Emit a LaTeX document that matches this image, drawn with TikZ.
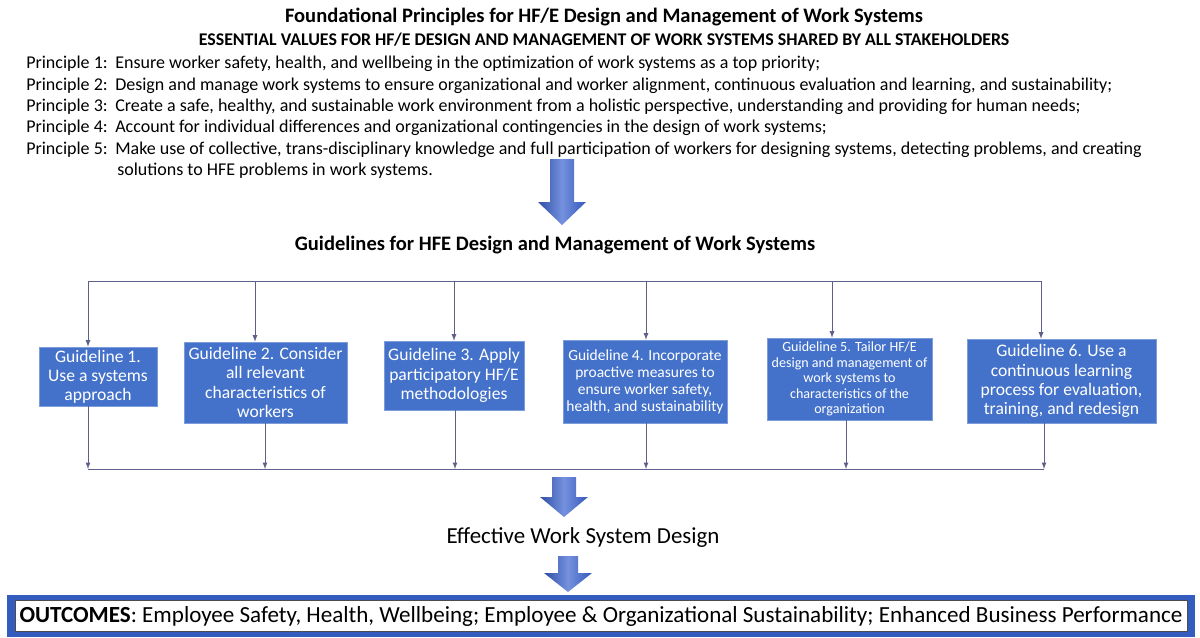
\documentclass[tikz,border=0pt]{standalone}
\usepackage{fontspec}
\setmainfont{Carlito}
\usepackage{tikz}
\usetikzlibrary{positioning}
\usetikzlibrary{arrows,shapes}
\usetikzlibrary{calc}

\definecolor{guideblue}{RGB}{68,114,202}
\definecolor{linkgray}{RGB}{95,95,140}
\definecolor{arrowblue}{RGB}{58,98,208}
\definecolor{frameblue}{RGB}{52,92,190}

\newcommand{\prinfont}{\fontsize{12.8}{15}\selectfont}
\newcommand{\gbig}{\fontsize{12.5}{13.6}\selectfont}

\tikzset{
  guide/.style={fill=guideblue, draw=guideblue!70!white, text=white, align=center, inner sep=1pt},
  link/.style={draw=linkgray, semithick, ->, >=latex},
  bus/.style={draw=linkgray, semithick},
}

\begin{document}
\begin{tikzpicture}[x=0.025cm, y=-0.025cm]
 \useasboundingbox (0,0) rectangle (1200,637);

 %principles
 \node[font=\fontsize{14.6}{16}\selectfont\bfseries] (title) at (604,17) {Foundational Principles for HF/E Design and Management of Work Systems};
 \node[font=\fontsize{12.7}{14}\selectfont\bfseries] (values) at (604,40) {ESSENTIAL VALUES FOR HF/E DESIGN AND MANAGEMENT OF WORK SYSTEMS SHARED BY ALL STAKEHOLDERS};

 \foreach \i/\txt in {1/{Ensure worker safety, health, and wellbeing in the optimization of work systems as a top priority;},
                      2/{Design and manage work systems to ensure organizational and worker alignment, continuous evaluation and learning, and sustainability;},
                      3/{Create a safe, healthy, and sustainable work environment from a holistic perspective, understanding and providing for human needs;},
                      4/{Account for individual differences and organizational contingencies in the design of work systems;},
                      5/{Make use of collective, trans-disciplinary knowledge and full participation of workers for designing systems, detecting problems, and creating}} {
   \node[anchor=base west, font=\prinfont, inner sep=0pt] (p\i) at (26, 47.5+21.3*\i) {Principle \i:};
   \node[anchor=base west, font=\prinfont, inner sep=0pt] (t\i) at (115, 47.5+21.3*\i) {\txt};
 }
 \node[anchor=base west, font=\prinfont, inner sep=0pt] (t6) at (117, 175) {solutions to HFE problems in work systems.};

 %big arrows
 \foreach \cx/\ya/\yb/\yc/\w in {562/159/202/225/12, 564/477/497/517/12, 568/556/573/592/10} {
   \shade[left color=arrowblue!80!black, right color=arrowblue!90!black, middle color=arrowblue!70!white]
     (\cx-\w,\ya) -- (\cx+\w,\ya) -- (\cx+\w,\yb) -- (\cx+24,\yb) -- (\cx,\yc) -- (\cx-24,\yb) -- (\cx-\w,\yb) -- cycle;
 }

 %guidelines
 \node[font=\fontsize{14.6}{16}\selectfont\bfseries] (guidehead) at (555,245) {Guidelines for HFE Design and Management of Work Systems};

 \node[guide, minimum width=2.95cm, minimum height=1.475cm, font=\gbig] (g1) at (98,376.5) {Guideline 1.\\Use a systems\\approach};
 \node[guide, minimum width=4.075cm, minimum height=2.025cm, font=\gbig] (g2) at (265.5,382.5) {Guideline 2. Consider\\all relevant\\characteristics of\\workers};
 \node[guide, minimum width=3.5cm, minimum height=1.725cm, font=\gbig] (g3) at (454,375.5) {Guideline 3. Apply\\participatory HF/E\\methodologies};
 \node[guide, minimum width=4.1cm, minimum height=2.075cm, font=\fontsize{11}{12.1}\selectfont] (g4) at (645,381.5) {Guideline 4. Incorporate\\proactive measures to\\ensure worker safety,\\health, and sustainability};
 \node[guide, minimum width=4.125cm, minimum height=2.05cm, font=\fontsize{10}{11}\selectfont] (g5) at (849.5,379) {Guideline 5. Tailor HF/E\\design and management of\\work systems to\\characteristics of the\\organization};
 \node[guide, minimum width=4.725cm, minimum height=2.1cm, font=\gbig] (g6) at (1061.5,381) {Guideline 6. Use a\\continuous learning\\process for evaluation,\\training, and redesign};

 %connectors
 \foreach \g/\xa/\xb in {1/88/88, 2/255/265, 3/454/455, 4/646/646, 5/832/846, 6/1041/1044} {
   \coordinate (in\g) at (\xa,281);
   \coordinate (out\g) at (\xb,469);
   \draw[link] (in\g) -- (in\g |- g\g.north);
   \draw[link] (out\g |- g\g.south) -- (out\g);
 }
 \draw[bus] (in1) -- (in6);
 \draw[bus] (out1) -- (out6);

 %result
 \node[font=\fontsize{16.3}{18}\selectfont] (effective) at (583,538) {Effective Work System Design};

 \node[fill=frameblue, minimum width=29.7cm, minimum height=1.05cm, inner sep=0pt] (frame) at (601,616) {};
 \node[draw=black!70, fill=white, minimum width=29.3cm, minimum height=0.775cm, inner sep=0pt, font=\fontsize{16.4}{18}\selectfont] (outcomes) at (frame) {\textbf{OUTCOMES}: Employee Safety, Health, Wellbeing; Employee \& Organizational Sustainability; Enhanced Business Performance};

\end{tikzpicture}
\end{document}
